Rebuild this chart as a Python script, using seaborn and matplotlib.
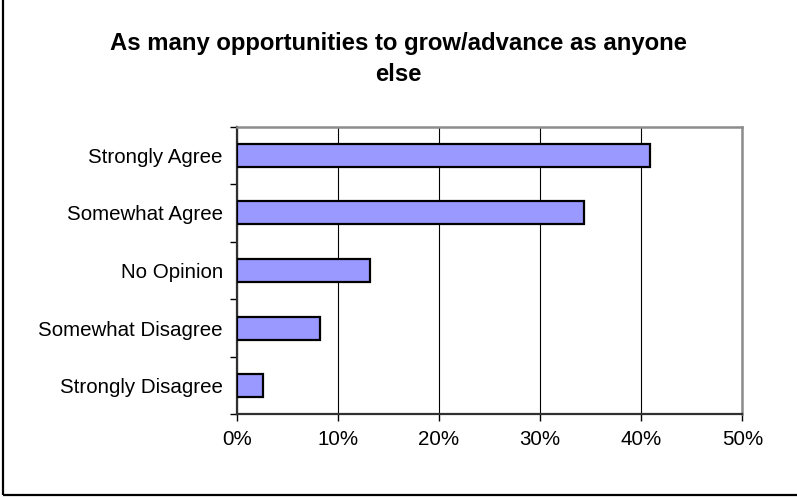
import matplotlib
matplotlib.use("Agg")
import matplotlib.pyplot as plt
import matplotlib.patches as mpatches
from matplotlib.ticker import FuncFormatter
import seaborn as sns
import pandas as pd
import numpy as np

categories = ["Strongly Agree", "Somewhat Agree", "No Opinion",
              "Somewhat Disagree", "Strongly Disagree"]
percent = [40.9, 34.3, 13.2, 8.2, 2.6]
x_ticks = [0, 10, 20, 30, 40, 50]

sns.set_style("white", {"text.color": "black", "xtick.color": "black",
                        "ytick.color": "black", "axes.labelcolor": "black"})
plt.rcParams['font.family'] = ['Liberation Sans', 'DejaVu Sans']

df = pd.DataFrame({"answer": categories, "pct": percent})

fig = plt.figure(figsize=(7.97, 4.98), dpi=100)
ax = fig.add_axes([0.297, 0.168, 0.9315 - 0.297, 0.7456 - 0.168])

sns.barplot(data=df, x="pct", y="answer", order=categories, orient="h",
            color="#9999FF", saturation=1, edgecolor="black", linewidth=1.6,
            width=0.4, ax=ax, zorder=3)

ax.set_xlim(0, 50)
ax.set_ylim(4.5, -0.5)
ax.set_xticks(x_ticks)
ax.xaxis.set_major_formatter(FuncFormatter(lambda v, p: f"{v:.0f}%"))
ax.grid(axis="x", color="black", linewidth=0.8, zorder=1)
ax.set_axisbelow(True)
ax.set_xlabel("")
ax.set_ylabel("")

# ticks between categories on the left axis
ax.set_yticks(np.arange(-0.5, len(categories), 1.0), minor=True)
ax.tick_params(axis="y", which="minor", left=True, length=5, width=1, color="black")
ax.tick_params(axis="y", which="major", left=False, length=0, pad=10,
               labelsize=14.8, labelcolor="black")
ax.tick_params(axis="x", which="major", bottom=True, length=5, width=1,
               color="black", pad=6, labelsize=14.8, labelcolor="black")

for side in ["top", "right"]:
    ax.spines[side].set_color("#8c8c8c")
    ax.spines[side].set_linewidth(1.8)
for side in ["left", "bottom"]:
    ax.spines[side].set_color("#303030")
    ax.spines[side].set_linewidth(1.6)

fig.text(0.5, 1 - 59 / 498, "As many opportunities to grow/advance as anyone\nelse",
         ha="center", va="center", fontsize=17.2, fontweight="bold",
         linespacing=1.4, color="black")

# outer chart border
fig.patches.append(mpatches.Rectangle((2.5 / 797, 3.5 / 498), 1.2, 1.2,
                                      transform=fig.transFigure, fill=False,
                                      edgecolor="black", linewidth=1.6))

fig.savefig("out.png", dpi=100, facecolor="white")
